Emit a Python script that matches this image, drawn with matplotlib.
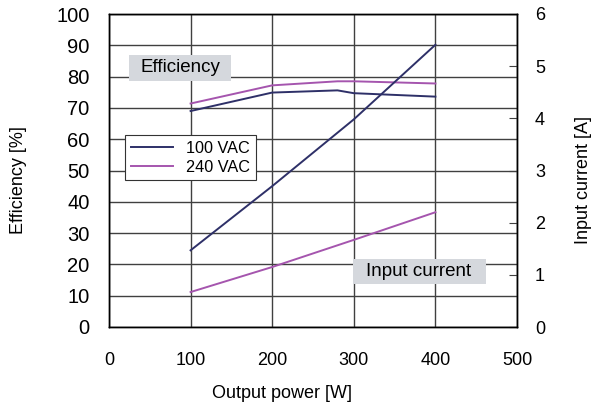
import matplotlib
matplotlib.use("Agg")
import matplotlib.pyplot as plt
from matplotlib.patches import Rectangle

plt.rcParams['font.family'] = ['Liberation Sans', 'DejaVu Sans']

power_eff_100 = [100, 200, 280, 300, 400]
eff_100 = [69.0, 74.9, 75.6, 74.7, 73.6]
power_eff_240 = [100, 200, 280, 300, 400]
eff_240 = [71.4, 77.2, 78.5, 78.5, 77.8]

power_cur = [100, 200, 300, 400]
cur_100 = [1.47, 2.70, 3.98, 5.41]
cur_240 = [0.67, 1.15, 1.67, 2.20]

x_ticks = [0, 100, 200, 300, 400, 500]
y_ticks = [0, 10, 20, 30, 40, 50, 60, 70, 80, 90, 100]
y2_ticks = [0, 1, 2, 3, 4, 5, 6]

c100 = '#2e3068'
c240 = '#a555ae'
grid_c = '#404040'
box_c = '#d5d8dd'

W, H = 593, 407
fig = plt.figure(figsize=(W/100, H/100), dpi=100)
ax = fig.add_axes([109/W, 1-327/H, (517-109)/W, (327-14)/H])
ax2 = ax.twinx()

ax.set_xlim(0, 500)
ax.set_ylim(0, 100)
ax2.set_ylim(0, 6)
ax.set_xticks(x_ticks)
ax.set_yticks(y_ticks)
ax2.set_yticks(y2_ticks)
ax.grid(True, color=grid_c, linewidth=1.0)
ax.set_axisbelow(True)

ax.tick_params(axis='x', length=0, labelsize=13, pad=18)
ax.tick_params(axis='y', length=0, labelsize=14.5, pad=14)
ax2.tick_params(axis='y', direction='in', length=6, labelsize=13, pad=13, color=grid_c)

for a in (ax, ax2):
    for s in a.spines.values():
        s.set_color('black')
        s.set_linewidth(1.0)

ax.plot(power_eff_100, eff_100, color=c100, lw=1.4, label='100 VAC')
ax.plot(power_eff_240, eff_240, color=c240, lw=1.4, label='240 VAC')
ax2.plot(power_cur, cur_100, color=c100, lw=1.4)
ax2.plot(power_cur, cur_240, color=c240, lw=1.4)

fig.text(281.5/W, 1-394/H, 'Output power [W]', fontsize=13, ha='center', va='center')
fig.text(19/W, 1-180/H, 'Efficiency [%]', fontsize=13, ha='center', va='center', rotation=90)
fig.text(592/W, 1-180/H, 'Input current [A]', fontsize=13, ha='right', va='center', rotation=90)

leg = ax.legend(loc='upper left', bbox_to_anchor=(16/408, 192/313), fontsize=11.7,
                frameon=True, fancybox=False, edgecolor='#333333', framealpha=1,
                borderpad=0.35, handlelength=2.6, labelspacing=0.25, borderaxespad=0,
                handletextpad=0.8)
leg.get_frame().set_linewidth(0.8)

# label boxes (axes-fraction coordinates)
ax.add_patch(Rectangle(((129-109)/408, (327-81)/313), (231-129)/408, 26/313,
                       transform=ax.transAxes, facecolor=box_c, edgecolor='none', zorder=3))
ax.text((140-109)/408, (327-68)/313, 'Efficiency', fontsize=13.5, ha='left', va='center',
        transform=ax.transAxes, zorder=4)
ax.add_patch(Rectangle(((353-109)/408, (327-284)/313), (486-353)/408, 25/313,
                       transform=ax.transAxes, facecolor=box_c, edgecolor='none', zorder=3))
ax.text((366-109)/408, (327-271.5)/313, 'Input current', fontsize=13.5, ha='left', va='center',
        transform=ax.transAxes, zorder=4)

fig.savefig('out.png', dpi=100)
